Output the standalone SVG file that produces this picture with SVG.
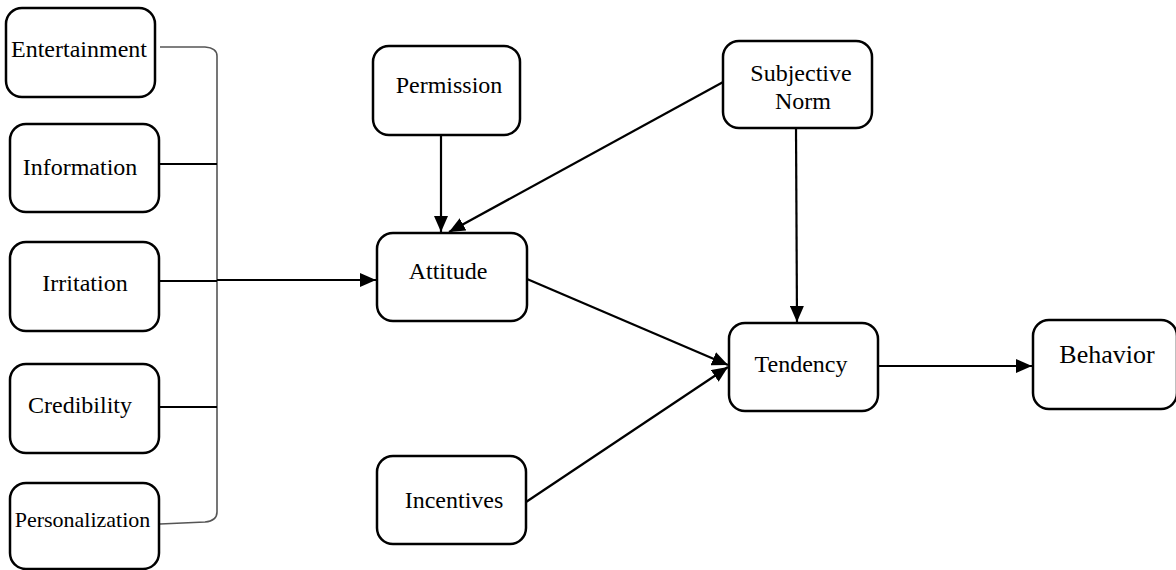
<svg xmlns="http://www.w3.org/2000/svg" width="1176" height="570" viewBox="0 0 1176 570">
<style>
.box{fill:#fff;stroke:#000;stroke-width:2.5}
.lbl{font-family:"Liberation Serif","Times New Roman",serif;font-size:24px;fill:#000;text-anchor:middle}
.ln{fill:none;stroke:#000;stroke-width:2}
.br{fill:none;stroke:#555;stroke-width:1.6}
.arr{fill:none;stroke:#000;stroke-width:2.2;marker-end:url(#ah)}
</style>
<defs>
<marker id="ah" markerUnits="userSpaceOnUse" markerWidth="17" markerHeight="14" refX="16" refY="7" orient="auto">
<path d="M0,0 L16,7 L0,14 z" fill="#000"/>
</marker>
</defs>
<rect width="1176" height="570" fill="#fff"/>
<g id="connectors">
<path class="br" d="M160,47 L205,47 Q217,48 217,56 L217,512 Q217,521 205,522 L160,524"/>
<line class="ln" x1="159" y1="164" x2="217" y2="164"/>
<line class="ln" x1="159" y1="281" x2="217" y2="281"/>
<line class="ln" x1="159" y1="407" x2="217" y2="407"/>
<line class="arr" x1="217" y1="280" x2="376" y2="280"/>
<line class="arr" x1="441" y1="135" x2="441" y2="232"/>
<line class="arr" x1="725" y1="81" x2="449" y2="232"/>
<line class="arr" x1="796" y1="128" x2="797" y2="322"/>
<line class="arr" x1="527" y1="279" x2="728" y2="365"/>
<line class="arr" x1="526" y1="502" x2="728" y2="367"/>
<line class="arr" x1="878" y1="366" x2="1032" y2="366"/>
</g>
<g id="entertainment"><rect class="box" x="6" y="8" width="149" height="89" rx="16"/><text class="lbl" x="79" y="57">Entertainment</text></g>
<g id="information"><rect class="box" x="10" y="124" width="149" height="88" rx="16"/><text class="lbl" x="80" y="175">Information</text></g>
<g id="irritation"><rect class="box" x="10" y="242" width="149" height="89" rx="16"/><text class="lbl" x="85" y="291">Irritation</text></g>
<g id="credibility"><rect class="box" x="10" y="364" width="149" height="89" rx="16"/><text class="lbl" x="80" y="413">Credibility</text></g>
<g id="personalization"><rect class="box" x="10" y="483" width="149" height="86" rx="16"/><text class="lbl" x="82.5" y="527" style="font-size:22px">Personalization</text></g>
<g id="permission"><rect class="box" x="373" y="46" width="147" height="89" rx="16"/><text class="lbl" x="449" y="93">Permission</text></g>
<g id="attitude"><rect class="box" x="377" y="233" width="150" height="88" rx="16"/><text class="lbl" x="448" y="279">Attitude</text></g>
<g id="subjective-norm"><rect class="box" x="723" y="41" width="149" height="87" rx="16"/><text class="lbl" x="801" y="81">Subjective</text><text class="lbl" x="803" y="109">Norm</text></g>
<g id="incentives"><rect class="box" x="377" y="456" width="149" height="88" rx="16"/><text class="lbl" x="454" y="508">Incentives</text></g>
<g id="tendency"><rect class="box" x="729" y="323" width="149" height="88" rx="16"/><text class="lbl" x="801" y="372">Tendency</text></g>
<g id="behavior"><rect class="box" x="1033" y="320" width="144" height="89" rx="16"/><text class="lbl" x="1107" y="363" style="font-size:26px">Behavior</text></g>
</svg>
